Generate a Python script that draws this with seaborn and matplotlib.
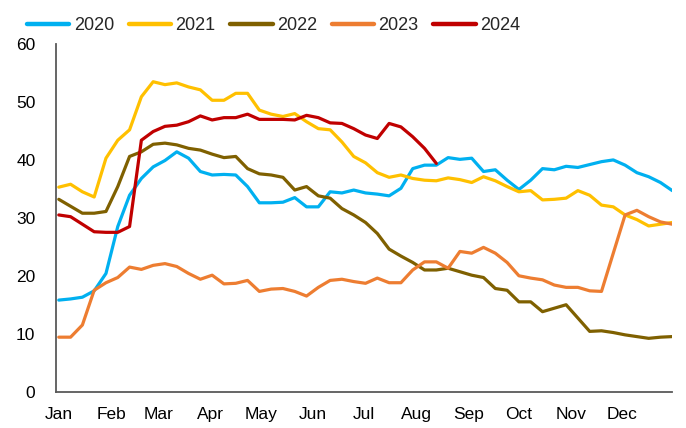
import numpy as np
import pandas as pd
import matplotlib
matplotlib.use('Agg')
import matplotlib.pyplot as plt
import seaborn as sns

# weekly readings, week 0 = 1 Jan
weeks = np.arange(53)

y2020 = [15.8, 16.0, 16.3, 17.4, 20.4, 28.5, 33.9, 36.8, 38.8, 39.9, 41.4, 40.3, 38.0, 37.4,
         37.5, 37.4, 35.4, 32.6, 32.6, 32.7, 33.5, 31.9, 31.9, 34.5, 34.3, 34.8, 34.3,
         34.1, 33.8, 35.1, 38.5, 39.1, 39.1, 40.4, 40.1, 40.3, 38.0, 38.3, 36.5, 34.9,
         36.5, 38.5, 38.3, 38.9, 38.7, 39.2, 39.7, 40.0, 39.1, 37.8, 37.1, 36.1, 34.7]
y2021 = [35.3, 35.8, 34.5, 33.6, 40.3, 43.4, 45.2, 50.9, 53.5, 53.0, 53.3, 52.6, 52.1, 50.3,
         50.3, 51.5, 51.5, 48.6, 47.9, 47.5, 48.0, 46.6, 45.4, 45.2, 43.1, 40.6, 39.5,
         37.8, 37.0, 37.4, 36.8, 36.5, 36.4, 36.9, 36.6, 36.1, 37.1, 36.4, 35.4, 34.5,
         34.7, 33.1, 33.2, 33.4, 34.7, 33.9, 32.2, 31.9, 30.5, 29.7, 28.6, 28.9, 29.2]
y2022 = [33.2, 32.0, 30.8, 30.8, 31.1, 35.4, 40.6, 41.4, 42.7, 42.9, 42.6, 42.0, 41.7, 41.0,
         40.4, 40.6, 38.5, 37.6, 37.4, 37.0, 34.8, 35.4, 33.8, 33.4, 31.6, 30.5, 29.2,
         27.3, 24.6, 23.4, 22.3, 21.0, 21.0, 21.3, 20.7, 20.1, 19.7, 17.8, 17.5, 15.5,
         15.5, 13.8, 14.4, 15.0, 12.7, 10.4, 10.5, 10.2, 9.8, 9.5, 9.2, 9.4, 9.5]
y2023 = [9.4, 9.4, 11.5, 17.5, 18.8, 19.7, 21.5, 21.1, 21.8, 22.1, 21.6, 20.4, 19.4, 20.1,
         18.6, 18.7, 19.2, 17.3, 17.7, 17.8, 17.3, 16.5, 18.0, 19.2, 19.4, 19.0, 18.7,
         19.6, 18.8, 18.8, 21.0, 22.4, 22.4, 21.3, 24.2, 23.9, 24.9, 23.9, 22.3, 20.0,
         19.6, 19.3, 18.4, 18.0, 18.0, 17.4, 17.3, 23.9, 30.5, 31.3, 30.2, 29.3, 28.9]
y2024 = [30.5, 30.2, 28.9, 27.6, 27.5, 27.5, 28.5, 43.4, 44.9, 45.8, 46.0, 46.6, 47.6, 46.9,
         47.3, 47.3, 47.9, 47.0, 47.0, 47.0, 46.9, 47.7, 47.3, 46.4, 46.3, 45.4, 44.3,
         43.7, 46.3, 45.7, 44.0, 42.0, 39.4] + [np.nan] * 20

years = ['2020', '2021', '2022', '2023', '2024']
colors = ['#00B0F0', '#FFC000', '#7F6000', '#ED7D31', '#C00000']
months = ['Jan', 'Feb', 'Mar', 'Apr', 'May', 'Jun', 'Jul', 'Aug', 'Sep', 'Oct', 'Nov', 'Dec']
month_start = [0, 31, 59, 90, 120, 151, 181, 212, 243, 273, 304, 334]

frames = []
for yr, vals in zip(years, [y2020, y2021, y2022, y2023, y2024]):
    frames.append(pd.DataFrame({'day': weeks * 7, 'value': vals, 'year': yr}))
df = pd.concat(frames, ignore_index=True).dropna()

sns.set_style('white')
plt.rcParams['font.family'] = ['Liberation Sans', 'DejaVu Sans']

fig = plt.figure(figsize=(6.86, 4.28), dpi=100)
ax = fig.add_axes([0.082, 0.085, 0.898, 0.812])

sns.lineplot(data=df, x='day', y='value', hue='year', palette=dict(zip(years, colors)),
             estimator=None, linewidth=2.3, ax=ax)

ax.set_xlim(-1.5, 364)
ax.set_ylim(0, 60)
ax.set_yticks(range(0, 61, 10))
ax.set_xticks(month_start)
ax.set_xticklabels(months)
ax.set_xlabel('')
ax.set_ylabel('')
ax.tick_params(axis='both', direction='in', length=5, width=1.3, color='#595959',
               labelsize=12.5, labelcolor='black')
ax.tick_params(axis='x', pad=11)
ax.tick_params(axis='y', pad=15)
for s in ['top', 'right']:
    ax.spines[s].set_visible(False)
for s in ['left', 'bottom']:
    ax.spines[s].set_color('#595959')
    ax.spines[s].set_linewidth(1.3)

# legend across the top
leg = ax.legend(ncol=5, loc='center left', bbox_to_anchor=(27 / 686, 1 - 26 / 428),
                bbox_transform=fig.transFigure, frameon=False, fontsize=13,
                handlelength=2.35, handletextpad=0.25, columnspacing=0.8,
                borderpad=0, borderaxespad=0)
for h in leg.get_lines():
    h.set_linewidth(3.2)

fig.savefig('out.png', dpi=100)
